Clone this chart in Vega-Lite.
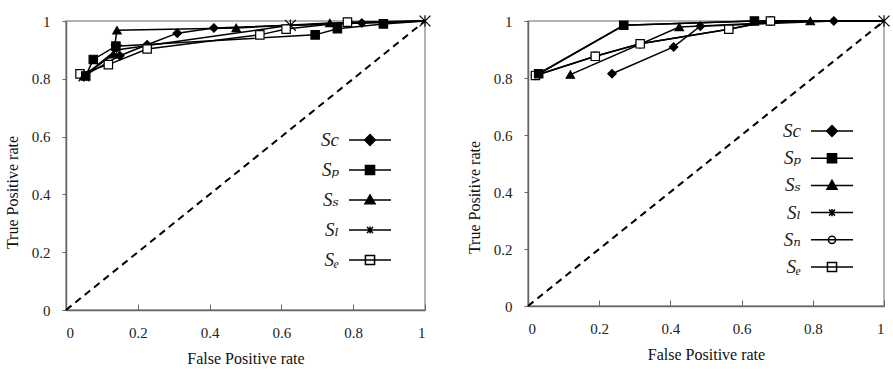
{
  "$schema": "https://vega.github.io/schema/vega-lite/v6.json",
  "padding": {"left": 3, "top": 11, "right": 0, "bottom": 0},
  "spacing": 31,
  "datasets": {
    "diag": [{"fpr": 0, "tpr": 0}, {"fpr": 1, "tpr": 1}],
    "rocA": [
      {"series": "Sl", "fpr": 0.05, "tpr": 0.81}, {"series": "Sl", "fpr": 0.14, "tpr": 0.9}, {"series": "Sl", "fpr": 0.625, "tpr": 0.985}, {"series": "Sl", "fpr": 1, "tpr": 1},
      {"series": "Sc", "fpr": 0.05, "tpr": 0.81}, {"series": "Sc", "fpr": 0.15, "tpr": 0.88}, {"series": "Sc", "fpr": 0.226, "tpr": 0.918}, {"series": "Sc", "fpr": 0.31, "tpr": 0.958}, {"series": "Sc", "fpr": 0.412, "tpr": 0.976}, {"series": "Sc", "fpr": 0.824, "tpr": 0.993}, {"series": "Sc", "fpr": 1, "tpr": 1},
      {"series": "Se", "fpr": 0.039, "tpr": 0.817}, {"series": "Se", "fpr": 0.118, "tpr": 0.849}, {"series": "Se", "fpr": 0.226, "tpr": 0.903}, {"series": "Se", "fpr": 0.54, "tpr": 0.952}, {"series": "Se", "fpr": 0.613, "tpr": 0.972}, {"series": "Se", "fpr": 0.784, "tpr": 0.996}, {"series": "Se", "fpr": 1, "tpr": 1},
      {"series": "Ss", "fpr": 0.05, "tpr": 0.81}, {"series": "Ss", "fpr": 0.132, "tpr": 0.885}, {"series": "Ss", "fpr": 0.142, "tpr": 0.968}, {"series": "Ss", "fpr": 0.474, "tpr": 0.976}, {"series": "Ss", "fpr": 0.735, "tpr": 0.993}, {"series": "Ss", "fpr": 1, "tpr": 1},
      {"series": "Sp", "fpr": 0.055, "tpr": 0.81}, {"series": "Sp", "fpr": 0.076, "tpr": 0.867}, {"series": "Sp", "fpr": 0.139, "tpr": 0.913}, {"series": "Sp", "fpr": 0.694, "tpr": 0.952}, {"series": "Sp", "fpr": 0.756, "tpr": 0.973}, {"series": "Sp", "fpr": 0.884, "tpr": 0.99}, {"series": "Sp", "fpr": 1, "tpr": 1}
    ],
    "rocB": [
      {"series": "Sl", "fpr": 0.03, "tpr": 0.815}, {"series": "Sl", "fpr": 0.269, "tpr": 0.985}, {"series": "Sl", "fpr": 0.636, "tpr": 1.0}, {"series": "Sl", "fpr": 1, "tpr": 1},
      {"series": "Sn", "fpr": 0.021, "tpr": 0.809}, {"series": "Sn", "fpr": 0.189, "tpr": 0.876}, {"series": "Sn", "fpr": 0.315, "tpr": 0.92}, {"series": "Sn", "fpr": 0.564, "tpr": 0.971}, {"series": "Sn", "fpr": 0.681, "tpr": 1.0}, {"series": "Sn", "fpr": 1, "tpr": 1},
      {"series": "Sc", "fpr": 0.236, "tpr": 0.815}, {"series": "Sc", "fpr": 0.409, "tpr": 0.909}, {"series": "Sc", "fpr": 0.484, "tpr": 0.982}, {"series": "Sc", "fpr": 0.859, "tpr": 1.0}, {"series": "Sc", "fpr": 1, "tpr": 1},
      {"series": "Ss", "fpr": 0.119, "tpr": 0.812}, {"series": "Ss", "fpr": 0.425, "tpr": 0.979}, {"series": "Ss", "fpr": 0.793, "tpr": 1.0}, {"series": "Ss", "fpr": 1, "tpr": 1},
      {"series": "Se", "fpr": 0.021, "tpr": 0.809}, {"series": "Se", "fpr": 0.189, "tpr": 0.876}, {"series": "Se", "fpr": 0.315, "tpr": 0.92}, {"series": "Se", "fpr": 0.564, "tpr": 0.971}, {"series": "Se", "fpr": 0.681, "tpr": 1.0}, {"series": "Se", "fpr": 1, "tpr": 1},
      {"series": "Sp", "fpr": 0.03, "tpr": 0.815}, {"series": "Sp", "fpr": 0.269, "tpr": 0.985}, {"series": "Sp", "fpr": 0.636, "tpr": 1.0}, {"series": "Sp", "fpr": 1, "tpr": 1}
    ]
  },
  "hconcat": [
    {
      "width": 359,
      "height": 289,
      "resolve": {"scale": {"shape": "independent", "fill": "independent"}},
      "layer": [
        {
          "data": {"name": "diag"},
          "mark": {"type": "line", "strokeDash": [7, 5], "color": "black", "strokeWidth": 2},
          "encoding": {
            "x": {"field": "fpr", "type": "quantitative", "scale": {"domain": [0, 1], "nice": false}, "axis": {"title": "False Positive rate", "values": [0, 0.2, 0.4, 0.6, 0.8, 1], "format": "~g"}},
            "y": {"field": "tpr", "type": "quantitative", "scale": {"domain": [0, 1], "nice": false}, "axis": {"title": "True Positive rate", "values": [0, 0.2, 0.4, 0.6, 0.8, 1], "format": "~g", "titleY": 171}}
          }
        },
        {
          "data": {"name": "rocA"},
          "mark": {"type": "line", "color": "black", "strokeWidth": 1.5},
          "encoding": {
            "x": {"field": "fpr", "type": "quantitative"},
            "y": {"field": "tpr", "type": "quantitative"},
            "detail": {"field": "series"}
          }
        },
        {
          "data": {"name": "rocA"},
          "transform": [{"filter": "datum.fpr < 1 || datum.series == 'Sl'"}],
          "mark": {"type": "point", "filled": true, "stroke": "black", "strokeWidth": 1.2, "size": 70, "opacity": 1},
          "encoding": {
            "x": {"field": "fpr", "type": "quantitative"},
            "y": {"field": "tpr", "type": "quantitative"},
            "fill": {"field": "series", "type": "nominal", "scale": {"domain": ["Sc", "Sp", "Ss", "Sl", "Se"], "range": ["black", "black", "black", "black", "white"]}, "legend": null},
            "shape": {"field": "series", "type": "nominal", "scale": {"domain": ["Sc", "Sp", "Ss", "Sl", "Se"], "range": ["diamond", "square", "triangle-up", "M-1.3,-1.3L1.3,1.3M-1.3,1.3L1.3,-1.3M0,-1.4L0,1.4", "square"]}, "legend": null}
          }
        },
        {
          "data": {"name": "rocA"},
          "transform": [{"filter": "false"}],
          "mark": {"type": "point", "filled": true, "stroke": "black", "strokeWidth": 2, "opacity": 1},
          "encoding": {
            "x": {"field": "fpr", "type": "quantitative"},
            "y": {"field": "tpr", "type": "quantitative"},
            "fill": {
              "field": "series", "type": "nominal",
              "scale": {"domain": ["Sc", "Sp", "Ss", "Sl", "Se"], "range": ["black", "black", "black", "black", "white"]},
              "legend": {"orient": "none", "legendX": 291, "legendY": 106, "title": null, "padding": 0, "rowPadding": 7, "symbolSize": 576, "labelFont": "Liberation Serif, DejaVu Serif", "labelFontStyle": "italic", "labelFontSize": 19, "labelColor": "#222", "labelAlign": "right", "labelOffset": -44, "labelExpr": "{'Sc':'Sc','Sp':'Sₚ','Ss':'Sₛ','Sl':'Sₗ','Sn':'Sₙ','Se':'Sₑ'}[datum.label]"}
            },
            "shape": {
              "field": "series", "type": "nominal",
              "scale": {"domain": ["Sc", "Sp", "Ss", "Sl", "Se"], "range": ["M-1.75,0H1.75M0,-0.45L0.45,0L0,0.45L-0.45,0Z", "M-1.75,0H1.75M-0.38,-0.38H0.38V0.38H-0.38Z", "M-1.75,0H1.75M0,-0.42L0.42,0.32L-0.42,0.32Z", "M-1.75,0H1.75M-0.25,-0.25L0.25,0.25M-0.25,0.25L0.25,-0.25M0,-0.3L0,0.3", "M-1.75,0H1.75M-0.38,-0.38H0.38V0.38H-0.38Z"]},
              "legend": {"orient": "none", "legendX": 291, "legendY": 106, "title": null, "padding": 0, "rowPadding": 7, "symbolSize": 576, "labelFont": "Liberation Serif, DejaVu Serif", "labelFontStyle": "italic", "labelFontSize": 19, "labelColor": "#222", "labelAlign": "right", "labelOffset": -44, "labelExpr": "{'Sc':'Sc','Sp':'Sₚ','Ss':'Sₛ','Sl':'Sₗ','Sn':'Sₙ','Se':'Sₑ'}[datum.label]"}
            }
          }
        }
      ]
    },
    {
      "width": 356,
      "height": 285,
      "resolve": {"scale": {"shape": "independent", "fill": "independent"}},
      "layer": [
        {
          "data": {"name": "diag"},
          "mark": {"type": "line", "strokeDash": [7, 5], "color": "black", "strokeWidth": 2},
          "encoding": {
            "x": {"field": "fpr", "type": "quantitative", "scale": {"domain": [0, 1], "nice": false}, "axis": {"title": "False Positive rate", "values": [0, 0.2, 0.4, 0.6, 0.8, 1], "format": "~g"}},
            "y": {"field": "tpr", "type": "quantitative", "scale": {"domain": [0, 1], "nice": false}, "axis": {"title": "True Positive rate", "values": [0, 0.2, 0.4, 0.6, 0.8, 1], "format": "~g", "titleY": 176}}
          }
        },
        {
          "data": {"name": "rocB"},
          "mark": {"type": "line", "color": "black", "strokeWidth": 1.5},
          "encoding": {
            "x": {"field": "fpr", "type": "quantitative"},
            "y": {"field": "tpr", "type": "quantitative"},
            "detail": {"field": "series"}
          }
        },
        {
          "data": {"name": "rocB"},
          "transform": [{"filter": "datum.fpr < 1 ? datum.series != 'Sl' : datum.series == 'Sl'"}],
          "mark": {"type": "point", "filled": true, "stroke": "black", "strokeWidth": 1.2, "size": 70, "opacity": 1},
          "encoding": {
            "x": {"field": "fpr", "type": "quantitative"},
            "y": {"field": "tpr", "type": "quantitative"},
            "fill": {"field": "series", "type": "nominal", "scale": {"domain": ["Sc", "Sp", "Ss", "Sl", "Sn", "Se"], "range": ["black", "black", "black", "black", "white", "white"]}, "legend": null},
            "shape": {"field": "series", "type": "nominal", "scale": {"domain": ["Sc", "Sp", "Ss", "Sl", "Sn", "Se"], "range": ["diamond", "square", "triangle-up", "M-1.3,-1.3L1.3,1.3M-1.3,1.3L1.3,-1.3M0,-1.4L0,1.4", "circle", "square"]}, "legend": null}
          }
        },
        {
          "data": {"name": "rocB"},
          "transform": [{"filter": "false"}],
          "mark": {"type": "point", "filled": true, "stroke": "black", "strokeWidth": 2, "opacity": 1},
          "encoding": {
            "x": {"field": "fpr", "type": "quantitative"},
            "y": {"field": "tpr", "type": "quantitative"},
            "fill": {
              "field": "series", "type": "nominal",
              "scale": {"domain": ["Sc", "Sp", "Ss", "Sl", "Sn", "Se"], "range": ["black", "black", "black", "black", "white", "white"]},
              "legend": {"orient": "none", "legendX": 291, "legendY": 97, "title": null, "padding": 0, "rowPadding": 4.2, "symbolSize": 576, "labelFont": "Liberation Serif, DejaVu Serif", "labelFontStyle": "italic", "labelFontSize": 19, "labelColor": "#222", "labelAlign": "right", "labelOffset": -44, "labelExpr": "{'Sc':'Sc','Sp':'Sₚ','Ss':'Sₛ','Sl':'Sₗ','Sn':'Sₙ','Se':'Sₑ'}[datum.label]"}
            },
            "shape": {
              "field": "series", "type": "nominal",
              "scale": {"domain": ["Sc", "Sp", "Ss", "Sl", "Sn", "Se"], "range": ["M-1.75,0H1.75M0,-0.45L0.45,0L0,0.45L-0.45,0Z", "M-1.75,0H1.75M-0.38,-0.38H0.38V0.38H-0.38Z", "M-1.75,0H1.75M0,-0.42L0.42,0.32L-0.42,0.32Z", "M-1.75,0H1.75M-0.25,-0.25L0.25,0.25M-0.25,0.25L0.25,-0.25M0,-0.3L0,0.3", "M-1.75,0H1.75M0.3,0A0.3,0.3 0 1,1 -0.3,0A0.3,0.3 0 1,1 0.3,0Z", "M-1.75,0H1.75M-0.38,-0.38H0.38V0.38H-0.38Z"]},
              "legend": {"orient": "none", "legendX": 291, "legendY": 97, "title": null, "padding": 0, "rowPadding": 4.2, "symbolSize": 576, "labelFont": "Liberation Serif, DejaVu Serif", "labelFontStyle": "italic", "labelFontSize": 19, "labelColor": "#222", "labelAlign": "right", "labelOffset": -44, "labelExpr": "{'Sc':'Sc','Sp':'Sₚ','Ss':'Sₛ','Sl':'Sₗ','Sn':'Sₙ','Se':'Sₑ'}[datum.label]"}
            }
          }
        }
      ]
    }
  ],
  "resolve": {"scale": {"shape": "independent", "fill": "independent"}, "legend": {"shape": "independent", "fill": "independent"}},
  "config": {
    "font": "Liberation Serif",
    "view": {"stroke": "#9a9a9a", "strokeWidth": 1.5},
    "axis": {"grid": false, "domainColor": "#666", "tickColor": "#666", "domainWidth": 1.5, "labelFont": "Liberation Serif", "titleFont": "Liberation Serif", "labelFontSize": 15, "titleFontSize": 16, "titleFontWeight": "normal", "labelColor": "#222", "titleColor": "#111"},
    "axisY": {"tickSize": 4, "labelPadding": 12, "titlePadding": 11},
    "axisX": {"tickSize": -6, "labelPadding": 21, "titlePadding": 10}
  }
}
